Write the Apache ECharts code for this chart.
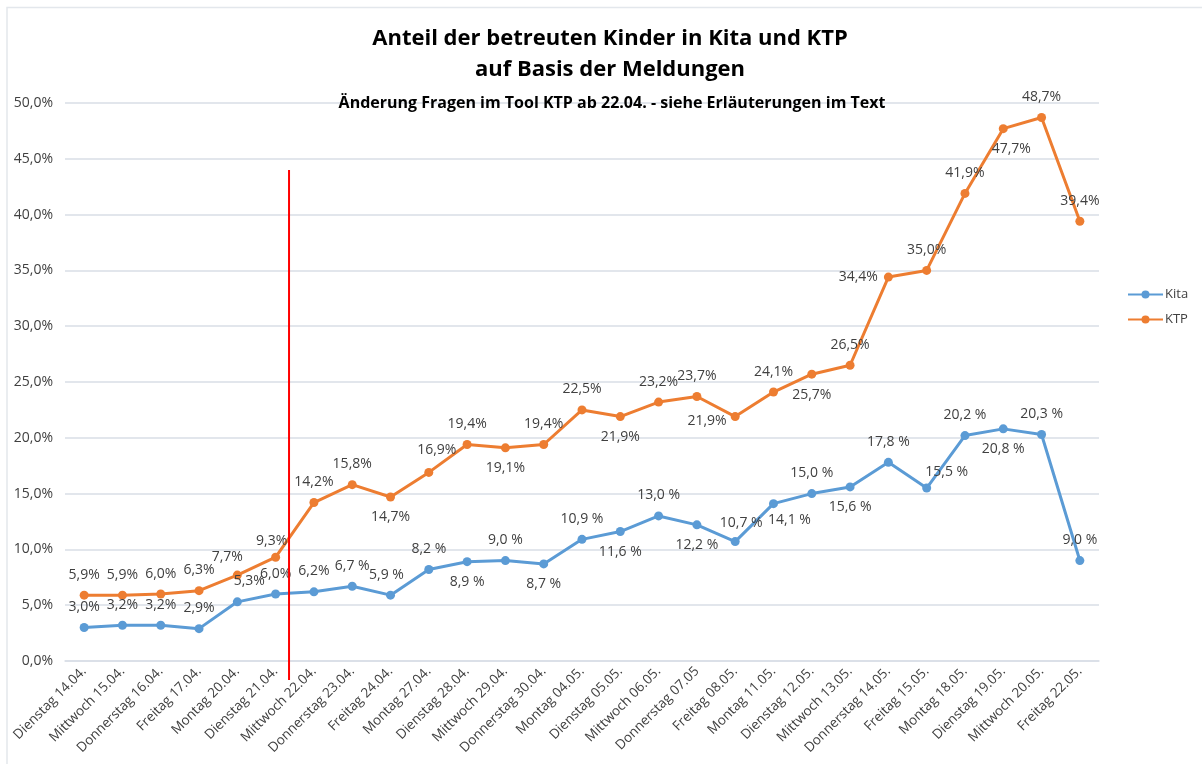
<!DOCTYPE html>
<html><head><meta charset="utf-8">
<script src="https://cdn.jsdelivr.net/npm/echarts@6/dist/echarts.min.js"></script>
<style>html,body{margin:0;padding:0;background:#fff}#c{width:1202px;height:764px}</style>
</head><body><div id="c"></div>
<script>
const categories = ["Dienstag 14.04.","Mittwoch 15.04.","Donnerstag 16.04.","Freitag 17.04.","Montag 20.04.","Dienstag 21.04.","Mittwoch 22.04.","Donnerstag 23.04.","Freitag 24.04.","Montag 27.04.","Dienstag 28.04.","Mittwoch 29.04.","Donnerstag 30.04.","Montag 04.05.","Dienstag 05.05.","Mittwoch 06.05.","Donnerstag 07.05","Freitag 08.05.","Montag 11.05.","Dienstag 12.05.","Mittwoch 13.05.","Donnerstag 14.05.","Freitag 15.05.","Montag 18.05.","Dienstag 19.05.","Mittwoch 20.05.","Freitag 22.05."];
const kita = [3.0,3.2,3.2,2.9,5.3,6.0,6.2,6.7,5.9,8.2,8.9,9.0,8.7,10.9,11.6,13.0,12.2,10.7,14.1,15.0,15.6,17.8,15.5,20.2,20.8,20.3,9.0];
const ktp = [5.9,5.9,6.0,6.3,7.7,9.3,14.2,15.8,14.7,16.9,19.4,19.1,19.4,22.5,21.9,23.2,23.7,21.9,24.1,25.7,26.5,34.4,35.0,41.9,47.7,48.7,39.4];
const kitaPos = ["top","top","top","top","top","top","top","top","top","top","bottom","top","bottom","top","bottom","top","bottom","top","bottom","top","bottom","top","top","top","bottom","top","top"];
const ktpPos = ["top","top","top","top","top","top","top","top","bottom","top","top","bottom","top","top","bottom","top","top","left","top","bottom","top","left","top","top","bottom","top","top"];
const yTicks = {min:0, max:50, interval:5};
const markerX = 5.35, markerTop = 44, markerBottom = -1.7;

const FONT = "'Open Sans', sans-serif";
const TXT = '#404040';
function fmt(v){return v.toFixed(1).replace('.',',');}
function mk(vals, pos, kind){
  return vals.map((v,i)=>{
    const p = pos[i];
    const lab = {position:p, distance: p==='left'?6:9};
    if (kind==='kita' && i===4) lab.offset=[12,0];
    if (kind==='kita' && i===22) lab.offset=[20,4];
    if (kind==='kita' && i===17) lab.offset=[6,2];
    if (kind==='kita' && i===18) lab.offset=[16,-4];
    if (kind==='kita' && i===8) lab.offset=[-4,0];
    if (kind==='ktp' && i===4) lab.offset=[-10,2];
    if (kind==='ktp' && i===5) lab.offset=[-4,4];
    if (kind==='ktp' && i===24) lab.offset=[8,0];
    if (kind==='ktp' && i===9) lab.offset=[8,-2];
    if (kind==='ktp' && i===17) lab.offset=[2,4];
    return {value:v, label:lab};
  });
}
const chart = echarts.init(document.getElementById('c'));
chart.setOption({
  animation:false,
  textStyle:{fontFamily:FONT},
  title:[
    {text:'Anteil der betreuten Kinder in Kita und KTP\nauf Basis der Meldungen', left:605, top:18, textAlign:'center',
     textStyle:{fontFamily:FONT, fontSize:22, fontWeight:'bold', color:'#000', lineHeight:31}},
    {text:'Änderung Fragen im Tool KTP ab 22.04. - siehe Erläuterungen im Text', left:607, top:90, textAlign:'center',
     textStyle:{fontFamily:FONT, fontSize:16, fontWeight:'bold', color:'#000'}}
  ],
  legend:{orient:'vertical', left:1122, top:283, itemGap:12, itemWidth:35, itemHeight:10,
    textStyle:{fontFamily:FONT, fontSize:13, color:TXT, padding:[0,0,0,-3]}, data:['Kita','KTP']},
  grid:{left:65, right:103, top:103, bottom:103},
  xAxis:{type:'category', data:categories, boundaryGap:true,
    axisLine:{lineStyle:{color:'#D9DEE6', width:1.5}}, axisTick:{show:false},
    axisLabel:{rotate:45, fontSize:13.5, color:TXT, fontFamily:FONT, interval:0, margin:8}},
  yAxis:{type:'value', min:yTicks.min, max:yTicks.max, interval:yTicks.interval,
    axisLine:{show:false}, axisTick:{show:false},
    splitLine:{lineStyle:{color:'#D9DEE6', width:1.5}},
    axisLabel:{fontSize:14, color:TXT, fontFamily:FONT, formatter:v=>fmt(v)+'%', margin:12}},
  series:[
    {name:'Kita', type:'line', data:mk(kita,kitaPos,'kita'), color:'#5B9BD5', symbol:'circle', symbolSize:9,
     lineStyle:{width:3}, itemStyle:{color:'#5B9BD5'},
     label:{show:true, fontSize:14, color:TXT, fontFamily:FONT, formatter:p=>fmt(p.value)+(p.dataIndex>=7?' %':'%')}},
    {name:'KTP', type:'line', data:mk(ktp,ktpPos,'ktp'), color:'#ED7D31', symbol:'circle', symbolSize:9,
     lineStyle:{width:3}, itemStyle:{color:'#ED7D31'},
     label:{show:true, fontSize:14, color:TXT, fontFamily:FONT, formatter:p=>fmt(p.value)+'%'}}
  ]
});
const a = chart.convertToPixel({gridIndex:0}, [5, markerTop]);
const b = chart.convertToPixel({gridIndex:0}, [6, markerBottom]);
const x = a[0] + (b[0]-a[0])*(markerX-5);
chart.setOption({graphic:[
  {type:'line', shape:{x1:x, y1:a[1], x2:x, y2:b[1]}, style:{stroke:'#FF0000', lineWidth:2}, z:10},
  {type:'polyline', shape:{points:[[7,764],[7,7.5],[1202,7.5]]}, style:{stroke:'#E3E7EC', lineWidth:1.5, fill:null}, z:0}
]});
</script></body></html>
